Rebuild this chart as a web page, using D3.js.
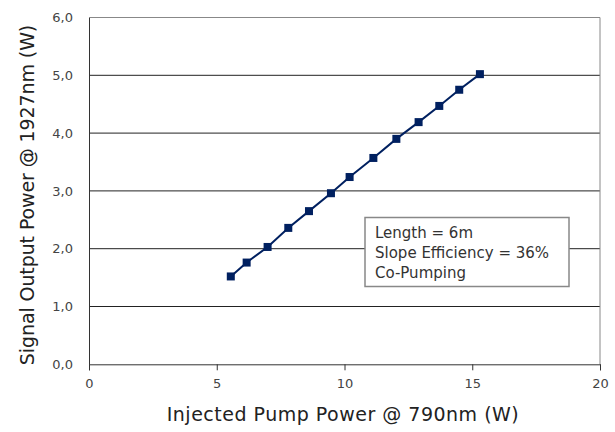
<!DOCTYPE html>
<html><head><meta charset="utf-8">
<script src="https://cdn.jsdelivr.net/npm/d3@7"></script>
<style>body{margin:0;background:#fff}svg{display:block}text{font-family:"DejaVu Sans",sans-serif}</style>
</head><body><svg id="c" width="615" height="432"></svg>
<script>
const pumpPower = [5.55, 6.17, 6.99, 7.80, 8.61, 9.47, 10.20, 11.13, 12.03, 12.90, 13.71, 14.49, 15.30];
const signalPower = [1.52, 1.76, 2.03, 2.36, 2.65, 2.96, 3.24, 3.57, 3.90, 4.19, 4.47, 4.75, 5.02];
const xTicks = [0, 5, 10, 15, 20];
const yTicks = [0, 1, 2, 3, 4, 5, 6];
const annotation = ["Length = 6m", "Slope Efficiency = 36%", "Co-Pumping"];
const xTitle = "Injected Pump Power @ 790nm (W)";
const yTitle = "Signal Output Power @ 1927nm (W)";

const svg = d3.select("#c");
const L = 89, R = 600, T = 17.5, B = 364.3;
const x = d3.scaleLinear().domain([0, 20]).range([L, R]);
const y = d3.scaleLinear().domain([0, 6]).range([B, T]);
const fmt = v => d3.format(".1f")(v).replace(".", ",");

// gridlines
svg.append("g").selectAll("line").data(yTicks.filter(v => v > 0 && v < 6)).join("line")
  .attr("x1", L).attr("x2", R).attr("y1", d => y(d)).attr("y2", d => y(d))
  .attr("stroke", "#222").attr("stroke-width", 1);
// frame top & right
svg.append("line").attr("x1", L).attr("x2", R).attr("y1", T).attr("y2", T).attr("stroke", "#888");
svg.append("line").attr("x1", R).attr("x2", R).attr("y1", T).attr("y2", B).attr("stroke", "#888");

// x axis
const xg = svg.append("g").attr("transform", `translate(0,${B})`)
  .call(d3.axisBottom(x).tickValues(xTicks).tickSize(6).tickPadding(8).tickFormat(d3.format("d")));
xg.select(".domain").attr("stroke", "#333");
xg.selectAll(".tick line").attr("stroke", "#333");
xg.selectAll("text").attr("font-size", 13).attr("fill", "#444");

// y axis
const yg = svg.append("g").attr("transform", `translate(${L},0)`)
  .call(d3.axisLeft(y).tickValues(yTicks).tickSize(0).tickPadding(16).tickFormat(fmt));
yg.select(".domain").attr("stroke", "#333");
yg.selectAll("text").attr("font-size", 13).attr("fill", "#444");

// line
const pts = pumpPower.map((p, i) => [p, signalPower[i]]);
svg.append("path").datum(pts)
  .attr("d", d3.line().x(d => x(d[0])).y(d => y(d[1])))
  .attr("fill", "none").attr("stroke", "#002060").attr("stroke-width", 2);
svg.append("g").selectAll("rect").data(pts).join("rect")
  .attr("x", d => x(d[0]) - 4).attr("y", d => y(d[1]) - 4)
  .attr("width", 8).attr("height", 8).attr("fill", "#002060");

// annotation box
const bx = 365, by = 217.5, bw = 204, bh = 69;
svg.append("rect").attr("x", bx).attr("y", by).attr("width", bw).attr("height", bh)
  .attr("fill", "#fff").attr("stroke", "#888").attr("stroke-width", 1.5);
svg.append("g").selectAll("text").data(annotation).join("text")
  .attr("x", bx + 10).attr("y", (d, i) => by + 20.5 + i * 20)
  .attr("font-size", 15).attr("fill", "#333").text(d => d);

// titles
svg.append("text").attr("x", 343).attr("y", 421).attr("text-anchor", "middle")
  .attr("font-size", 19).attr("fill", "#222").attr("letter-spacing", 0.5).text(xTitle);
svg.append("text").attr("transform", "translate(34,195) rotate(-90)").attr("text-anchor", "middle")
  .attr("font-size", 19).attr("fill", "#222").attr("letter-spacing", -0.1).text(yTitle);
</script></body></html>
